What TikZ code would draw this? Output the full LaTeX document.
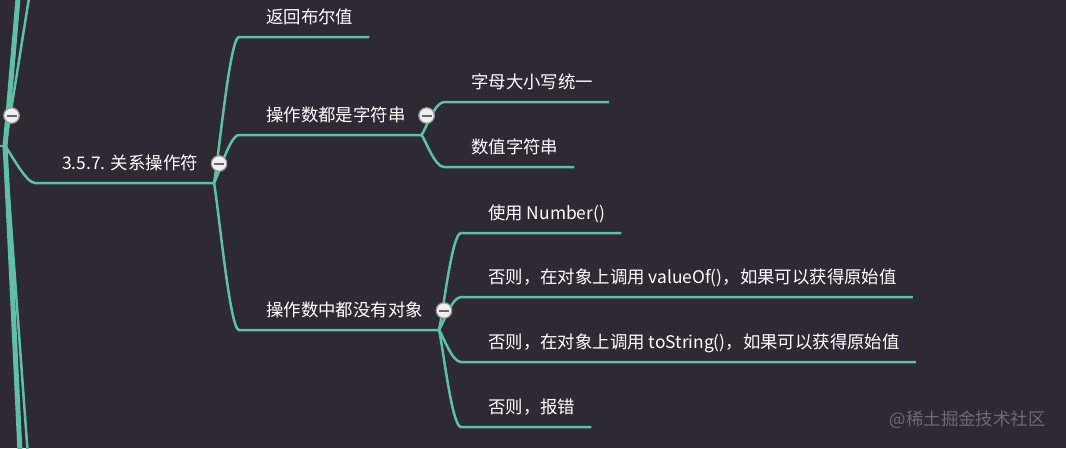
\documentclass[tikz,border=0pt]{standalone}
\usepackage{fontspec}
\setmainfont{Noto Sans CJK SC}
\usetikzlibrary{calc}
\definecolor{mapBg}{HTML}{2E2A33}
\definecolor{mapLink}{HTML}{5FC0A7}
\definecolor{mapMark}{HTML}{6E6A73}

\begin{document}
\begin{tikzpicture}[
    x=1pt, y=-1pt,
    font=\fontsize{17.4}{20}\selectfont,
    topic/.style={text=white, inner sep=0pt, text depth=13.5pt, anchor=south west},
    link/.style={draw=mapLink, line width=2.5pt,
        to path={.. controls ($(\tikztostart)!0.2!(\tikztotarget)$) and ($(\tikztotarget)+(-9pt,0)$) .. (\tikztotarget)}},
    trunk/.style={link, line width=5pt},
    fold/.style={circle, draw=gray!80, fill=white!94!black, line width=1.2pt, minimum size=15.5pt, inner sep=0pt,
        path picture={\draw[line width=2pt, black!60] ([xshift=-5pt]path picture bounding box.center) -- ([xshift=5pt]path picture bounding box.center);}}
]
    \fill[mapBg] (0,0) rectangle (1066,448);
    \useasboundingbox (0,0) rectangle (1066,448);
    \clip (0,0) rectangle (1066,448);

    % parent topic, only its end is in view
    \coordinate (top-out) at (5,146);
    \coordinate (sib-a) at (50,-300);
    \coordinate (sib-b) at (75,-250);
    \coordinate (sib-c) at (43,800);
    \coordinate (sib-d) at (52,700);

    \foreach \n/\x/\y/\t in {rel/62/183/3.5.7. 关系操作符,
        bool/266/37/返回布尔值, str/266/135/操作数都是字符串, noobj/266/330/操作数中都没有对象,
        str-case/471/102/字母大小写统一, str-num/471/167/数值字符串,
        obj-num/488/233/使用 Number(),
        obj-val/488/297/{否则，在对象上调用 valueOf()，如果可以获得原始值},
        obj-str/488/362/{否则，在对象上调用 toString()，如果可以获得原始值},
        obj-err/488/427/否则，报错} {
        \node[topic] (\n) at (\x,\y) {\t};
        \coordinate (\n-in) at ([xshift=-27pt]\n.south west);
        \coordinate (\n-out) at ([xshift=16pt]\n.south east);
    }

    \draw[link] (-10,146) -- (top-out);
    \draw[trunk] (top-out) to (sib-a);
    \draw[link] (top-out) to (sib-b);
    \draw[trunk] (top-out) to (sib-c);
    \draw[link] (top-out) to (sib-d);
    \draw[link] (top-out) to (rel-in) -- (rel-out);
    \foreach \a/\b in {rel/bool, rel/str, rel/noobj, str/str-case, str/str-num,
        noobj/obj-num, noobj/obj-val, noobj/obj-str, noobj/obj-err}
        \draw[link] (\a-out) to (\b-in) -- (\b-out);

    \node[fold] (top-fold) at (11.5,115.5) {};
    \foreach \n in {rel, str, noobj}
        \node[fold] (\n-fold) at ([shift={(5pt,19.5pt)}]\n-out) {};

    \node[text=mapMark, anchor=east] (mark) at (1049,420) {@稀土掘金技术社区};
\end{tikzpicture}
\end{document}
